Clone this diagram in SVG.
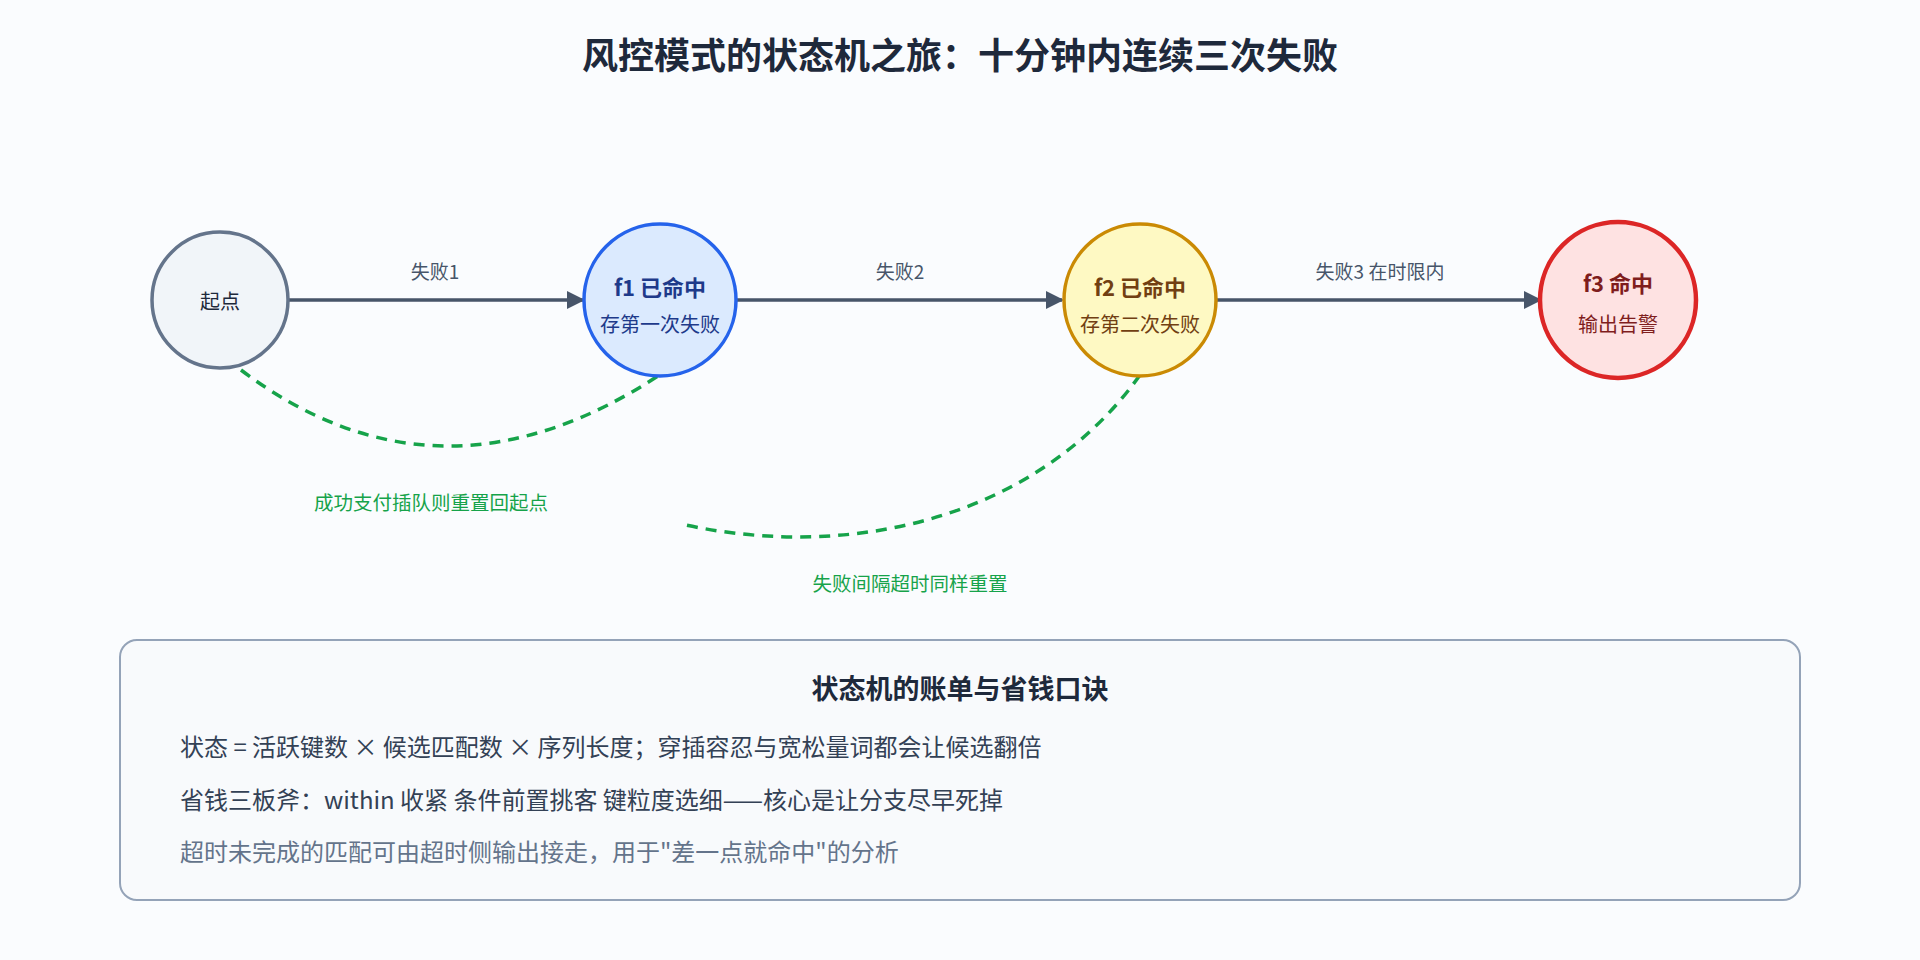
<svg xmlns="http://www.w3.org/2000/svg" width="1920" height="960" viewBox="0 0 1920 960">
<style>
text{font-family:"Noto Sans CJK SC","Noto Sans",sans-serif;text-anchor:middle}
.t{font-size:36px;font-weight:bold;fill:#1e293b}
.lbl{font-size:19px;fill:#475569}
.g{font-size:19.5px;fill:#16a34a}
.nb{font-size:22px;font-weight:bold}
.ns{font-size:20px}
.edge{stroke:#475569;stroke-width:3.5;fill:none}
.dash{stroke:#16a34a;stroke-width:3.5;fill:none;stroke-dasharray:11 8}
.line{font-size:24px;fill:#334155;text-anchor:start}
</style>
<defs><marker id="ah" markerWidth="18" markerHeight="18" refX="16" refY="9" orient="auto" markerUnits="userSpaceOnUse" viewBox="0 0 18 18"><path d="M0,0 L18,9 L0,18 z" fill="#475569"/></marker></defs>
<rect width="1920" height="960" fill="#fafcfe"/>
<text class="t" x="960" y="69">风控模式的状态机之旅：十分钟内连续三次失败</text>
<g id="connectors">
<path class="edge" d="M289,300 L583,300" marker-end="url(#ah)"/>
<text class="lbl" x="435" y="279">失败1</text>
<path class="edge" d="M737,300 L1062,300" marker-end="url(#ah)"/>
<text class="lbl" x="900" y="279">失败2</text>
<path class="edge" d="M1217,300 L1540,300" marker-end="url(#ah)"/>
<text class="lbl" x="1380" y="279">失败3 在时限内</text>
<path class="dash" d="M241,370 Q440,520 661,374"/>
<text class="g" x="431" y="510">成功支付插队则重置回起点</text>
<path class="dash" d="M1140,375 C1041,514 857,563 681,524"/>
<text class="g" x="910" y="591">失败间隔超时同样重置</text>
</g>
<g id="start"><circle cx="220" cy="300" r="68" fill="#f1f5f9" stroke="#64748b" stroke-width="3.5"/><text class="ns" x="220" y="309" fill="#1e293b">起点</text></g>
<g id="f1"><circle cx="660" cy="300" r="76" fill="#dbeafe" stroke="#2563eb" stroke-width="3.5"/><text class="nb" x="660" y="296" fill="#1e3a8a">f1 已命中</text><text class="ns" x="660" y="332" fill="#1e3a8a">存第一次失败</text></g>
<g id="f2"><circle cx="1140" cy="300" r="76" fill="#fef9c3" stroke="#ca8a04" stroke-width="3.5"/><text class="nb" x="1140" y="296" fill="#713f12">f2 已命中</text><text class="ns" x="1140" y="332" fill="#713f12">存第二次失败</text></g>
<g id="f3"><circle cx="1618" cy="300" r="78" fill="#fee2e2" stroke="#dc2626" stroke-width="4.5"/><text class="nb" x="1618" y="292" fill="#7f1d1d">f3 命中</text><text class="ns" x="1618" y="332" fill="#7f1d1d">输出告警</text></g>
<g id="note">
<rect x="120" y="640" width="1680" height="260" rx="17" fill="#f8fafc" stroke="#94a3b8" stroke-width="2"/>
<text x="960" y="699" style="font-size:27px;font-weight:bold;fill:#1e293b">状态机的账单与省钱口诀</text>
<text class="line" x="180" y="756">状态 = 活跃键数 × 候选匹配数 × 序列长度；穿插容忍与宽松量词都会让候选翻倍</text>
<text class="line" x="180" y="809">省钱三板斧：within 收紧 条件前置挑客 键粒度选细——核心是让分支尽早死掉</text>
<text class="line" x="180" y="861" style="fill:#64748b">超时未完成的匹配可由超时侧输出接走，用于"差一点就命中"的分析</text>
</g>
</svg>
